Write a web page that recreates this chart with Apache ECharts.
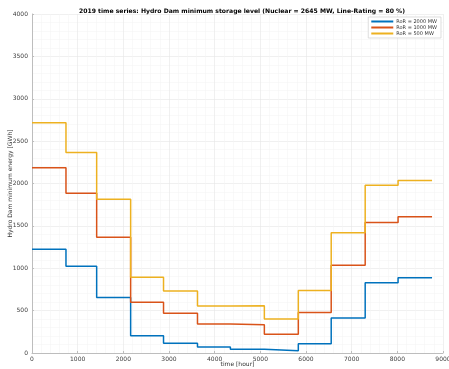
<!DOCTYPE html>
<html>
<head>
<meta charset="utf-8">
<script src="https://cdn.jsdelivr.net/npm/echarts@6/dist/echarts.min.js"></script>
<style>
  html, body { margin: 0; padding: 0; background: #fff; }
  #chart { width: 449px; height: 369px; }
</style>
</head>
<body>
<div id="chart"></div>
<script>
// Hour at which each month begins, plus the final hour of the year
const monthStart = [0, 744, 1416, 2160, 2880, 3624, 4344, 5088, 5832, 6552, 7296, 8016, 8760];

// Minimum storage level per month [GWh] for each run-of-river capacity
const ror2000 = [1225, 1025, 655, 205, 115, 70, 45, 28, 108, 413, 828, 889];
const ror1000 = [2187, 1885, 1365, 600, 470, 343, 332, 220, 478, 1035, 1541, 1608];
const ror500  = [2716, 2367, 1815, 893, 731, 555, 558, 401, 737, 1418, 1978, 2036];

const seriesNames = ['RoR = 2000 MW', 'RoR = 1000 MW', 'RoR = 500 MW'];
const seriesColors = ['#0072BD', '#D95319', '#EDB120'];

// Pair month values with their start hour; repeat the last value to close the year
function toSteps(values) {
  const pts = values.map((v, i) => [monthStart[i], v]);
  pts.push([monthStart[monthStart.length - 1], values[values.length - 1]]);
  return pts;
}

const chart = echarts.init(document.getElementById('chart'), null, { renderer: 'canvas' });

const axisFont = { fontFamily: 'DejaVu Sans', fontSize: 6, color: '#404040', formatter: v => String(v) };

chart.setOption({
  animation: false,
  title: {
    text: '2019 time series: Hydro Dam minimum storage level (Nuclear = 2645 MW, Line-Rating = 80 %)',
    left: 237, top: 3, textAlign: 'center',
    textStyle: { fontFamily: 'DejaVu Sans', fontSize: 6.1, fontWeight: 'bold', color: '#000' }
  },
  legend: {
    orient: 'vertical', right: 8, top: 17,
    itemWidth: 22, itemHeight: 2, itemGap: 1,
    backgroundColor: '#fff', borderColor: '#d0d0d0', borderWidth: 0.7,
    padding: [2, 4, 2, 3],
    textStyle: { fontFamily: 'DejaVu Sans', fontSize: 5, color: '#333', padding: [0, 0, 0, -2] },
    icon: 'rect',
    data: seriesNames
  },
  grid: { left: 32, right: 6, top: 14, bottom: 16, containLabel: false, outerBoundsMode: 'none' },
  xAxis: {
    type: 'value', min: 0, max: 9000, interval: 1000,
    name: 'time [hour]', nameLocation: 'middle', nameGap: 8, nameMoveOverlap: false,
    nameTextStyle: { fontFamily: 'DejaVu Sans', fontSize: 6, color: '#333' },
    axisLine: { lineStyle: { color: '#bdbdbd', width: 1 } },
    axisTick: { inside: true, length: 2, lineStyle: { color: '#bdbdbd' } },
    axisLabel: Object.assign({ margin: 3 }, axisFont),
    splitLine: { show: true, lineStyle: { color: '#e6e6e6', width: 0.6 } },
    minorTick: { show: false, splitNumber: 5 },
    minorSplitLine: { show: true, lineStyle: { color: '#f3f3f3', width: 0.5 } }
  },
  yAxis: {
    type: 'value', min: 0, max: 4000, interval: 500,
    name: 'Hydro Dam minimum energy [GWh]', nameLocation: 'middle', nameGap: 19, nameMoveOverlap: false,
    nameTextStyle: { fontFamily: 'DejaVu Sans', fontSize: 6, color: '#333' },
    axisLine: { show: true, lineStyle: { color: '#bdbdbd', width: 1 } },
    axisTick: { show: true, inside: true, length: 2, lineStyle: { color: '#bdbdbd' } },
    axisLabel: Object.assign({ margin: 4 }, axisFont),
    splitLine: { show: true, lineStyle: { color: '#e6e6e6', width: 0.6 } },
    minorTick: { show: false, splitNumber: 5 },
    minorSplitLine: { show: true, lineStyle: { color: '#f3f3f3', width: 0.5 } }
  },
  series: [ror2000, ror1000, ror500].map((vals, i) => ({
    name: seriesNames[i],
    type: 'line',
    step: 'end',
    showSymbol: false,
    color: seriesColors[i],
    lineStyle: { width: 1.5, color: seriesColors[i] },
    data: toSteps(vals)
  }))
});
</script>
</body>
</html>
